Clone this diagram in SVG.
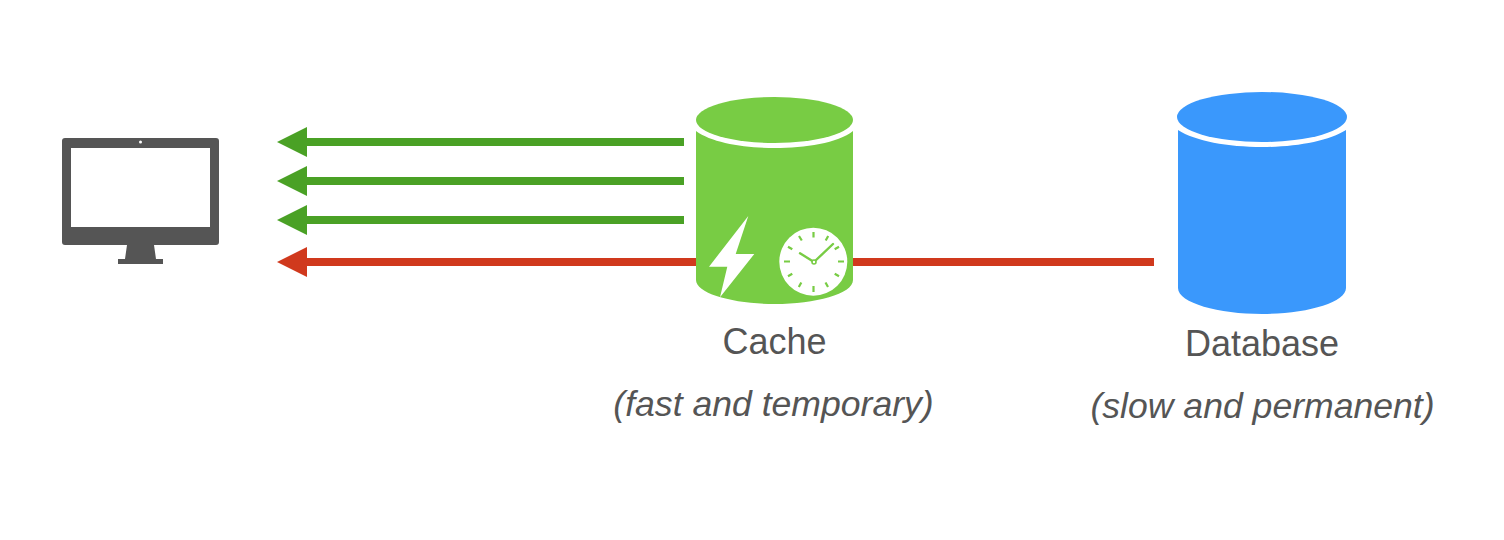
<svg xmlns="http://www.w3.org/2000/svg" width="1504" height="540" viewBox="0 0 1504 540">
<style>
text{font-family:"Liberation Sans",Arial,sans-serif;fill:#555;text-anchor:middle}
.t{font-size:36px}
.i{font-size:35.600px;font-style:italic}
.g{stroke:#4aa125;fill:none;stroke-width:8;marker-end:url(#ag)}
.r{stroke:#d0391d;fill:none;stroke-width:8;marker-end:url(#ar)}
.tick{stroke:#78cc44;stroke-width:2.200;fill:none}
</style>
<defs>
<marker id="ag" markerUnits="userSpaceOnUse" markerWidth="30" markerHeight="30" refX="0" refY="15" orient="auto"><path d="M30 15L0 0V30Z" fill="#4aa125"/></marker>
<marker id="ar" markerUnits="userSpaceOnUse" markerWidth="30" markerHeight="30" refX="0" refY="15" orient="auto"><path d="M30 15L0 0V30Z" fill="#d0391d"/></marker>
</defs>
<g id="connectors">
<path class="g" d="M684 142H307"/>
<path class="g" d="M684 181H307"/>
<path class="g" d="M684 220H307"/>
<path class="r" d="M1154 262H307"/>
</g>
<g id="client">
<path fill="#555" fill-rule="evenodd" d="M65 138H216a3 3 0 0 1 3 3V242a3 3 0 0 1-3 3H65a3 3 0 0 1-3-3V141a3 3 0 0 1 3-3ZM71 148V227H210V148Z"/>
<path fill="#555" d="M127 245H154L156 259H163V264H118V259H125Z"/>
<circle cx="140.500" cy="142" r="1.500" fill="#fff"/>
</g>
<g id="cache">
<path fill="#78cc44" d="M696 131C712 143 745 148 775 148C805 148 838 143 853 131V280C853 294 815 304 775 304C735 304 696 294 696 280Z"/>
<ellipse cx="774.500" cy="120" rx="78.500" ry="23" fill="#78cc44"/>
<path fill="#fff" d="M748.300 216L735.700 254H754.300L720 297.300L727.300 266.700H709Z"/>
<circle cx="813.300" cy="261.700" r="34" fill="#fff"/>
<path class="tick" d="M813.500 232V237.500M813.500 286V292M784 261.500H790M838 261.500H844M799 236L801.800 240.500M825.500 282.500L828 287M788 246.800L792.300 249.300M834.700 273.700L839 276.200M828.200 236L825.700 240.500M801.300 282.500L798.800 287M839 246.800L834.700 249.300M792.300 273.700L788 276.200"/>
<path d="M814 262L800 253.300M814 262L833 244" stroke="#78cc44" stroke-width="2.400" fill="none" stroke-linecap="round"/>
<circle cx="814" cy="262" r="2" fill="#fff" stroke="#78cc44" stroke-width="1.600"/>
<text class="t" x="774.500" y="354">Cache</text>
<text class="i" x="773.500" y="416">(fast and temporary)</text>
</g>
<g id="database">
<path fill="#3a98fc" d="M1178 130C1195 141 1228 147 1262 147C1296 147 1329 141 1346 130V288C1346 303 1305 314 1262 314C1219 314 1178 303 1178 288Z"/>
<ellipse cx="1262" cy="117" rx="85" ry="25" fill="#3a98fc"/>
<text class="t" x="1262" y="356">Database</text>
<text class="i" x="1262.500" y="418">(slow and permanent)</text>
</g>
</svg>
